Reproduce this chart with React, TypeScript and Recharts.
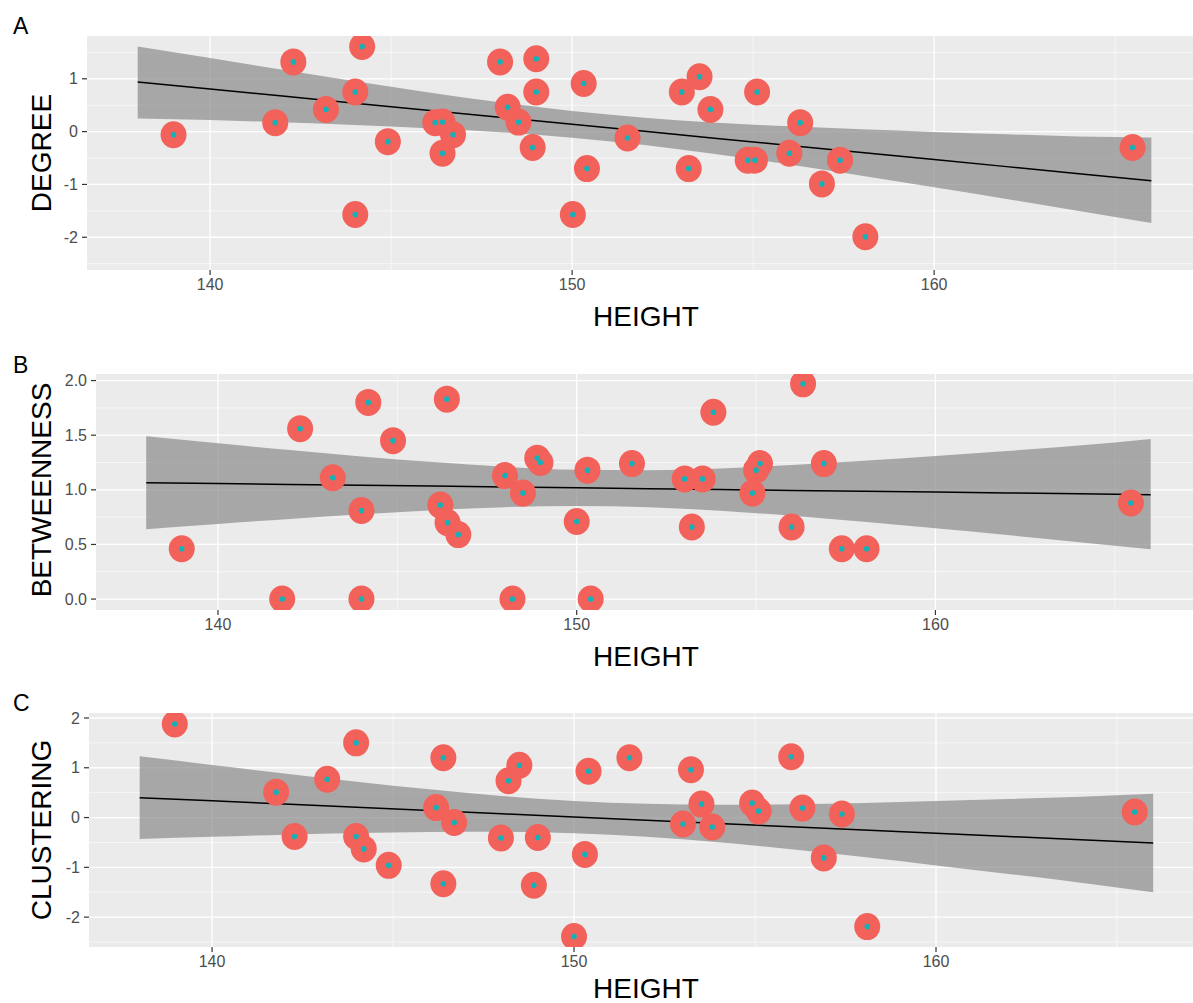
import React from "react";
import { ComposedChart, XAxis, YAxis, CartesianGrid, Area, Line, Scatter } from "recharts";

// ---------- shared axis values ----------
const heightTicks = [140, 150, 160];
const heightMinor = [135, 145, 155, 165];
const fitHeights = [138, 140, 142, 144, 146, 148, 150, 152, 154, 156, 158, 160, 162, 164, 166];

// ---------- Panel A: DEGREE ----------
const degreeHeights = [138.99, 141.8, 142.3, 143.2, 144.01, 144.2, 144.01, 144.91, 146.22, 146.42, 146.42, 146.71, 148.01, 148.22, 148.52, 148.91, 149.01, 149.01, 150.02, 150.32, 150.41, 151.53, 153.03, 153.52, 153.82, 153.22, 155.11, 154.85, 155.05, 156.0, 156.3, 157.4, 156.9, 158.1, 165.48];
const degreeValues = [-0.06, 0.17, 1.32, 0.42, 0.75, 1.61, -1.57, -0.19, 0.17, 0.18, -0.41, -0.06, 1.32, 0.46, 0.18, -0.3, 1.38, 0.75, -1.57, 0.91, -0.7, -0.12, 0.75, 1.04, 0.42, -0.7, 0.75, -0.54, -0.54, -0.41, 0.17, -0.54, -0.99, -1.99, -0.3];
const degreeFit = [0.94, 0.806, 0.673, 0.539, 0.406, 0.272, 0.138, 0.005, -0.129, -0.262, -0.396, -0.53, -0.663, -0.797, -0.93];
const degreeLower = [0.25, 0.22, 0.175, 0.124, 0.065, -0.011, -0.114, -0.253, -0.428, -0.624, -0.835, -1.054, -1.275, -1.501, -1.73];
const degreeUpper = [1.61, 1.392, 1.171, 0.954, 0.747, 0.555, 0.39, 0.263, 0.17, 0.1, 0.043, -0.006, -0.051, -0.093, -0.11];
const degreeTicks = [-2, -1, 0, 1];
const degreeMinor = [-2.5, -1.5, -0.5, 0.5, 1.5];

// ---------- Panel B: BETWEENNESS ----------
const betweenHeights = [138.99, 141.79, 142.29, 143.2, 144.0, 144.19, 144.0, 144.88, 146.38, 146.2, 146.4, 146.7, 148.0, 148.21, 148.5, 148.9, 148.99, 150.0, 150.3, 150.39, 151.54, 153.01, 153.51, 153.21, 153.81, 155.11, 155.0, 154.9, 156.31, 155.99, 156.89, 157.39, 158.08, 165.45];
const betweenValues = [0.46, 0.0, 1.56, 1.11, 0.81, 1.8, 0.0, 1.45, 1.83, 0.86, 0.7, 0.59, 1.13, 0.0, 0.97, 1.29, 1.25, 0.71, 1.18, 0.0, 1.24, 1.1, 1.1, 0.66, 1.71, 1.24, 1.18, 0.97, 1.97, 0.66, 1.24, 0.46, 0.46, 0.88];
const betweenFit = [1.065, 1.057, 1.049, 1.041, 1.034, 1.026, 1.018, 1.01, 1.002, 0.994, 0.986, 0.979, 0.971, 0.963, 0.955];
const betweenLower = [0.64, 0.688, 0.734, 0.777, 0.814, 0.841, 0.852, 0.84, 0.808, 0.762, 0.707, 0.648, 0.586, 0.521, 0.455];
const betweenUpper = [1.49, 1.426, 1.364, 1.305, 1.254, 1.211, 1.184, 1.18, 1.196, 1.226, 1.265, 1.31, 1.356, 1.405, 1.465];
const betweenTicks = [0, 0.5, 1, 1.5, 2];
const betweenMinor = [0.25, 0.75, 1.25, 1.75];

// ---------- Panel C: CLUSTERING ----------
const clusterHeights = [138.97, 141.77, 142.28, 143.18, 143.98, 143.98, 144.19, 144.88, 146.19, 146.39, 146.39, 146.69, 147.98, 148.19, 148.49, 149.0, 148.89, 150.0, 150.4, 150.3, 151.53, 153.01, 153.23, 153.52, 153.82, 154.92, 155.1, 156.0, 156.31, 156.9, 157.4, 158.1, 165.49];
const clusterValues = [1.88, 0.51, -0.38, 0.77, 1.5, -0.38, -0.63, -0.96, 0.2, 1.2, -1.33, -0.1, -0.41, 0.74, 1.05, -0.4, -1.36, -2.39, 0.93, -0.74, 1.2, -0.13, 0.96, 0.27, -0.19, 0.29, 0.13, 1.22, 0.19, -0.81, 0.07, -2.19, 0.11];
const clusterFit = [0.4, 0.335, 0.27, 0.205, 0.14, 0.075, 0.01, -0.055, -0.12, -0.185, -0.25, -0.315, -0.38, -0.445, -0.51];
const clusterLower = [-0.43, -0.386, -0.345, -0.311, -0.288, -0.284, -0.313, -0.385, -0.497, -0.637, -0.794, -0.961, -1.133, -1.309, -1.5];
const clusterUpper = [1.23, 1.056, 0.885, 0.721, 0.568, 0.434, 0.333, 0.275, 0.257, 0.267, 0.294, 0.331, 0.373, 0.419, 0.48];
const clusterTicks = [-2, -1, 0, 1, 2];
const clusterMinor = [-2.5, -1.5, -0.5, 0.5, 1.5];

const FONT = "'Liberation Sans', Arial, Helvetica, sans-serif";

function RedDot(props: any) {
  const { cx, cy } = props;
  if (cx == null || cy == null) return <g />;
  return <ellipse cx={cx} cy={cy} rx={13} ry={13.5} fill="#F2615A" />;
}

function TealDot(props: any) {
  const { cx, cy } = props;
  if (cx == null || cy == null) return <g />;
  return <circle cx={cx} cy={cy} r={2.8} fill="#14B2B8" />;
}

type Spec = {
  top: number;
  height: number;
  marginTop: number;
  xAxisHeight: number;
  yAxisWidth: number;
  xDomain: [number, number];
  yDomain: [number, number];
  yTicks: number[];
  yMinor: number[];
  decimals: number;
  heights: number[];
  values: number[];
  fit: number[];
  lower: number[];
  upper: number[];
};

const specs: Spec[] = [
  {
    top: 0, height: 330, marginTop: 36, xAxisHeight: 60, yAxisWidth: 87,
    xDomain: [136.6, 167.15], yDomain: [-2.62, 1.81], yTicks: degreeTicks, yMinor: degreeMinor, decimals: 0,
    heights: degreeHeights, values: degreeValues, fit: degreeFit, lower: degreeLower, upper: degreeUpper,
  },
  {
    top: 330, height: 340, marginTop: 44, xAxisHeight: 60, yAxisWidth: 96,
    xDomain: [136.6, 167.18], yDomain: [-0.1, 2.06], yTicks: betweenTicks, yMinor: betweenMinor, decimals: 1,
    heights: betweenHeights, values: betweenValues, fit: betweenFit, lower: betweenLower, upper: betweenUpper,
  },
  {
    top: 670, height: 333, marginTop: 43, xAxisHeight: 56, yAxisWidth: 89,
    xDomain: [136.6, 167.1], yDomain: [-2.6, 2.1], yTicks: clusterTicks, yMinor: clusterMinor, decimals: 0,
    heights: clusterHeights, values: clusterValues, fit: clusterFit, lower: clusterLower, upper: clusterUpper,
  },
];

function Panel({ spec }: { spec: Spec }) {
  const fitData = fitHeights.map((h, i) => ({ x: h, fit: spec.fit[i], band: [spec.lower[i], spec.upper[i]] }));
  const points = spec.heights.map((h, i) => ({ x: h, y: spec.values[i] }));
  return (
    <div style={{ position: "absolute", left: 0, top: spec.top }}>
      <ComposedChart
        width={1193}
        height={spec.height}
        data={fitData}
        margin={{ top: spec.marginTop, right: 0, bottom: 0, left: 0 }}
      >
        <CartesianGrid
          fill="#EBEBEB"
          stroke="#FFFFFF"
          strokeWidth={0.6}
          horizontalValues={spec.yMinor}
          verticalValues={heightMinor}
        />
        <CartesianGrid
          stroke="#FFFFFF"
          strokeWidth={1.3}
          horizontalValues={spec.yTicks}
          verticalValues={heightTicks}
        />
        <XAxis
          type="number"
          dataKey="x"
          domain={spec.xDomain}
          ticks={heightTicks}
          allowDataOverflow
          interval={0}
          height={spec.xAxisHeight}
          axisLine={false}
          tickLine={{ stroke: "#333333", strokeWidth: 1.2 }}
          tickSize={5}
          tickMargin={4}
          tick={{ fill: "#4D4D4D", fontSize: 16, fontFamily: FONT }}
        />
        <YAxis
          type="number"
          domain={spec.yDomain}
          ticks={spec.yTicks}
          allowDataOverflow
          interval={0}
          width={spec.yAxisWidth}
          axisLine={false}
          tickLine={{ stroke: "#333333", strokeWidth: 1.2 }}
          tickSize={5}
          tickMargin={4}
          tickFormatter={(v: number) => v.toFixed(spec.decimals)}
          tick={{ fill: "#4D4D4D", fontSize: 16, fontFamily: FONT }}
        />
        <Area
          dataKey="band"
          type="monotone"
          fill="#8A8A8A"
          fillOpacity={0.7}
          stroke="none"
          activeDot={false}
          dot={false}
          isAnimationActive={false}
        />
        <Line
          dataKey="fit"
          type="linear"
          stroke="#000000"
          strokeWidth={1.5}
          dot={false}
          activeDot={false}
          isAnimationActive={false}
        />
        <Scatter data={points} dataKey="y" shape={RedDot} isAnimationActive={false} />
        <Scatter data={points} dataKey="y" shape={TealDot} isAnimationActive={false} />
      </ComposedChart>
    </div>
  );
}

const panelLetters = ["A", "B", "C"];
const yTitles = ["DEGREE", "BETWEENNESS", "CLUSTERING"];
const xTitle = "HEIGHT";
const letterBaselines = [34, 373, 711];
const xTitleBaselines = [326, 666, 998];
const yTitleCenters = [153, 490, 830];

export default function App() {
  return (
    <div
      style={{
        position: "absolute",
        left: 0,
        top: 0,
        width: 1193,
        height: 1003,
        overflow: "hidden",
        background: "#FFFFFF",
        fontFamily: FONT,
      }}
    >
      {specs.map((s, i) => (
        <Panel key={i} spec={s} />
      ))}
      <svg
        width={1193}
        height={1003}
        style={{ position: "absolute", left: 0, top: 0, pointerEvents: "none" }}
      >
        {panelLetters.map((l, i) => (
          <text key={"l" + i} x={13} y={letterBaselines[i]} fontSize={23} fill="#000" fontFamily={FONT}>
            {l}
          </text>
        ))}
        {xTitleBaselines.map((b, i) => (
          <text key={"x" + i} x={646} y={b} fontSize={28} fill="#000" textAnchor="middle" fontFamily={FONT}>
            {xTitle}
          </text>
        ))}
        {yTitles.map((t, i) => (
          <text
            key={"y" + i}
            x={51}
            y={yTitleCenters[i]}
            fontSize={28}
            fill="#000"
            textAnchor="middle"
            fontFamily={FONT}
            transform={`rotate(-90 51 ${yTitleCenters[i]})`}
          >
            {t}
          </text>
        ))}
      </svg>
    </div>
  );
}
